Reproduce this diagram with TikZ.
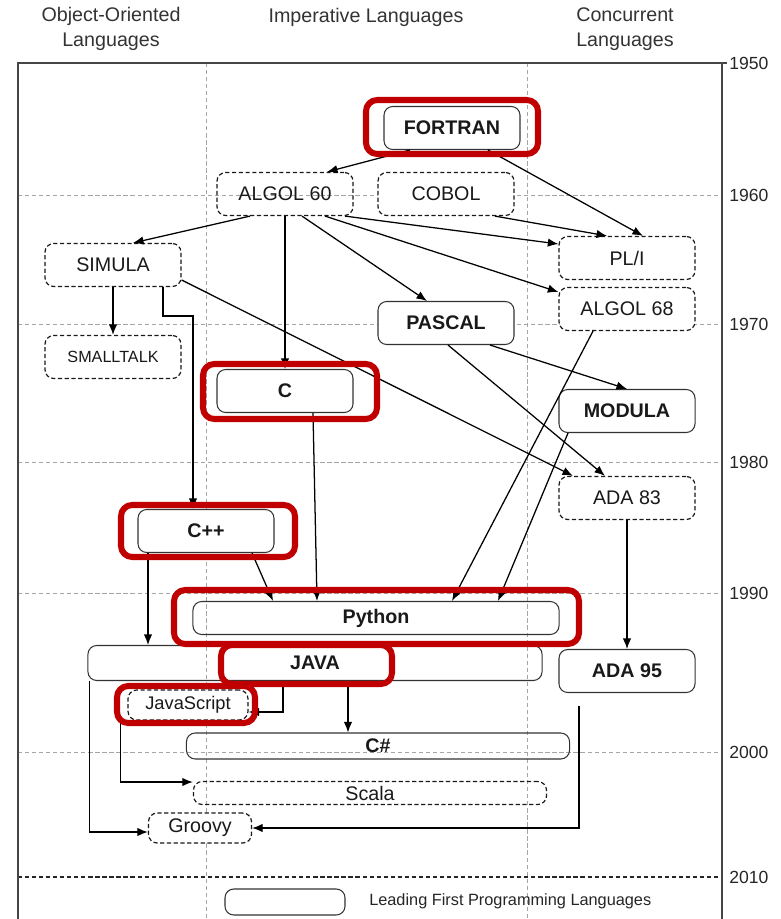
\documentclass[tikz,border=0pt]{standalone}
\usepackage{fontspec}
\setmainfont{Liberation Sans}
\usetikzlibrary{calc,arrows.meta}
\definecolor{hlred}{RGB}{192,0,0}
\definecolor{gridgray}{RGB}{165,165,165}
\definecolor{framegray}{RGB}{70,70,70}
\tikzstyle{lang}=[rectangle, rounded corners=0.22cm, draw=black!80, line width=0.75pt, fill=white, inner sep=0pt, minimum width=3.4cm, minimum height=1.075cm, anchor=center, text=black!90, font=\fontsize{14}{16}\selectfont]
\tikzstyle{lead}=[lang, font=\fontsize{14}{16}\selectfont\bfseries]
\tikzstyle{other}=[lang, draw=black!90, line width=0.85pt, dash pattern=on 3pt off 1.8pt]
\tikzstyle{conn}=[line width=0.9pt, -{Latex[length=7.5pt,width=6pt]}]
\tikzstyle{hl}=[draw=hlred, line width=4.3pt, rounded corners=0.28cm]
\tikzstyle{annot}=[align=center, text=black!80, font=\fontsize{14}{17.5}\selectfont]
\tikzstyle{year}=[anchor=west, inner sep=0pt, text=black!85, font=\fontsize{12.5}{14}\selectfont]
\tikzstyle{gridline}=[gridgray, line width=0.6pt, dash pattern=on 3pt off 2pt]

\begin{document}
\begin{tikzpicture}[x=0.025cm, y=-0.025cm]
	\useasboundingbox (0,0) rectangle (781,919);

	% time grid and columns
	\foreach \y/\yr in {195/1960, 324/1970, 462/1980, 593/1990, 752/2000}
	{
		\draw[gridline] (18,\y) -- (722,\y);
		\node[year] (y\yr) at (729,\y) {\yr};
	}
	\foreach \x in {206,527}
		\draw[gridline] (\x,63) -- (\x,919);
	\draw[black!85, line width=1pt, dash pattern=on 3pt off 2pt] (18,877) -- (722,877);
	\node[year] (y2010) at (729,877) {2010};
	\node[year] (y1950) at (729,63) {1950};
	\draw[framegray, line width=0.9pt] (18,919) -- (18,63) -- (727,63);
	\draw[framegray, line width=0.9pt] (722,63) -- (722,919);

	\node[annot] (hoo) at (111,29) {Object-Oriented\\Languages};
	\node[annot, anchor=base] (himp) at (366,23) {Imperative Languages};
	\node[annot] (hcon) at (625,29) {Concurrent\\Languages};

	% languages
	\node[lead] (fortran) at (452,128) {FORTRAN};
	\node[other, fill=none] (algol60) at (285,194) {ALGOL 60};
	\node[other] (cobol) at (446,194) {COBOL};
	\node[other] (simula) at (113,265) {SIMULA};
	\node[other] (pli) at (627,258) {PL/I};
	\node[other] (algol68) at (627,309) {ALGOL 68};
	\node[lead] (pascal) at (446,323) {PASCAL};
	\node[other, font=\fontsize{11.5}{13}\selectfont] (smalltalk) at (113,357) {SMALLTALK};
	\node[lead] (c) at (285,391) {C};
	\node[lead] (modula) at (627,411) {MODULA};
	\node[other] (ada83) at (627,498) {ADA 83};
	\node[lead] (cpp) at (206,531) {C++};
	\node[lead, fill=none, minimum width=9.15cm, minimum height=0.825cm] (python) at (376,618) {Python};
	\node[lead, fill=none, minimum width=11.35cm, minimum height=0.875cm] (java) at (315,663) {JAVA};
	\node[lead] (ada95) at (627,671) {ADA 95};
	\node[other, minimum width=3cm, minimum height=0.75cm, font=\fontsize{13}{15}\selectfont] (javascript) at (188,705) {JavaScript};
	\node[lead, fill=none, minimum width=9.575cm, minimum height=0.65cm] (csharp) at (378,746) {C\#};
	\node[other, fill=none, minimum width=8.825cm, minimum height=0.575cm] (scala) at (370,793) {Scala};
	\node[other, minimum width=2.575cm, minimum height=0.75cm] (groovy) at (200,828) {Groovy};

	% legend
	\node[lang, minimum width=3cm, minimum height=0.65cm] (legendbox) at (285,902) {};
	\node[anchor=west, inner sep=0pt, text=black!85, font=\fontsize{11.6}{13}\selectfont] (legendtext) at (369,901) {Leading First Programming Languages};

	% influences
	\draw[conn] ($(fortran.south)+(-42,0)$) -- ($(algol60.north)+(42,0)$);
	\draw[conn] ($(fortran.south)+(36,0)$) -- ($(pli.north)+(16,0)$);
	\draw[conn] ($(cobol.south)+(49,0)$) -- ($(pli.north)+(-20,0)$);
	\draw[conn] ($(algol60.south)+(60,0)$) -- ($(pli.west)+(0,-14)$);
	\draw[conn] ($(algol60.south)+(40,0)$) -- ($(algol68.west)+(0,-17)$);
	\draw[conn] ($(algol60.south)+(17,0)$) -- ($(pascal.north)+(-19,0)$);
	\draw[conn] (algol60.south) -- (c.north);
	\draw[conn] ($(algol60.south)+(-35,0)$) -- ($(simula.north)+(20,0)$);
	\draw[conn] (simula.south) -- (smalltalk.north);
	\draw[conn] ($(simula.south)+(50,0)$) -- ++(0,29) -| ($(cpp.north)+(-13,0)$);
	\draw[conn] ($(simula.east)+(0,15)$) -- ($(ada83.north)+(-54,0)$);
	\draw[conn] ($(pascal.south)+(44,0)$) -- (modula.north);
	\draw[conn] ($(pascal.south)+(2,0)$) -- ($(ada83.north)+(-22,0)$);
	\draw[conn] ($(algol68.south)+(-34,0)$) -- ($(python.north)+(76,0)$);
	\draw[conn] ($(modula.south)+(-59,0)$) -- ($(python.north)+(122,0)$);
	\draw[conn] (ada83.south) -- (ada95.north);
	\draw[conn] ($(c.south)+(28,0)$) -- ($(python.north)+(-59,0)$);
	\draw[conn] ($(cpp.south)+(46,0)$) -- ($(python.north)+(-103,0)$);
	\draw[conn] ($(cpp.south)+(-58,0)$) -- ($(java.north)+(-167,0)$);
	\draw[conn] ($(java.south)+(33,0)$) -- ($(csharp.north)+(-30,0)$);
	\draw[conn] ($(java.south)+(-32,0)$) |- ($(javascript.east)+(0,7)$);
	\draw[conn] ($(javascript.south west)+(-7,0)$) |- ($(scala.west)+(0,-11)$);
	\draw[conn] ($(java.south west)+(2,0)$) |- ($(groovy.west)+(0,4)$);
	\draw[conn] ($(ada95.south)+(-48,13)$) |- (groovy.east);

	% highlights
	\draw[hl] (366,100) rectangle (538,154);
	\draw[hl] (203,364) rectangle (377,419);
	\draw[hl] (121,505) rectangle (295,557);
	\draw[hl] (174,590) rectangle (579,644);
	\draw[hl] (221,645) rectangle (392,684);
	\draw[hl] (117,686) rectangle (255,723);

\end{tikzpicture}
\end{document}
